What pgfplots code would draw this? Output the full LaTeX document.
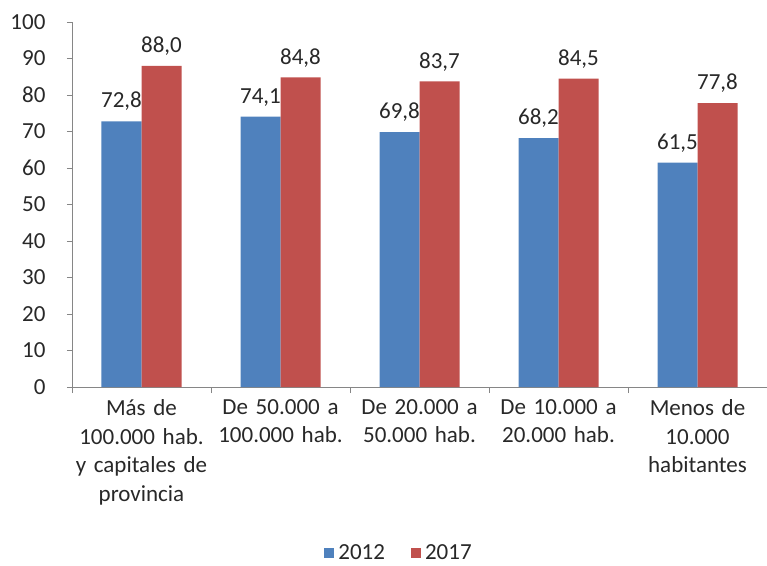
\documentclass[border=0pt]{standalone}
\usepackage{pgfplots}
\pgfplotsset{compat=1.18}
\usepackage{fontspec}
\setmainfont{Carlito}
\definecolor{cblue}{RGB}{79,129,189}
\definecolor{cred}{RGB}{192,80,77}
\definecolor{axgray}{RGB}{134,134,134}
\definecolor{txt}{RGB}{40,40,40}
\begin{document}
\begin{tikzpicture}
\useasboundingbox (-72pt,-178pt) rectangle (695pt,387pt);
\begin{axis}[
  at={(0pt,0pt)}, anchor=south west,
  scale only axis, width=695pt, height=365pt,
  font=\fontsize{23}{28}\selectfont\color{txt},
  /pgf/number format/assume math mode=true,
  ybar=0pt, bar width=40pt,
  xmin=-0.5, xmax=4.5, ymin=0, ymax=100,
  ytick={0,10,...,100},
  axis x line*=bottom, axis y line*=left,
  axis line style={axgray},
  tick align=outside, major tick length=5pt, minor tick length=6pt,
  tick style={axgray},
  xtick={0,1,2,3,4},
  major x tick style={draw=none},
  minor xtick={-0.5,0.5,1.5,2.5,3.5,4.5},
  xticklabels={{Más de\\100.000 hab.\\y capitales de\\provincia},
               {De 50.000 a\\100.000 hab.},
               {De 20.000 a\\50.000 hab.},
               {De 10.000 a\\20.000 hab.},
               {Menos de\\10.000\\habitantes}},
  x tick label style={align=center, text width=150pt, anchor=north, yshift=-4pt, font=\fontsize{23}{28.5}\selectfont\color{txt}},
  yticklabel style={xshift=-18pt, font=\fontsize{23}{28}\selectfont\color{txt}},
  nodes near coords,
  nodes near coords style={yshift=7pt, font=\fontsize{23}{28}\selectfont\color{txt}, /pgf/number format/.cd, fixed, fixed zerofill, precision=1, use comma},
  legend columns=2,
  legend style={at={(0.472,-0.455)}, anchor=center, draw=none, font=\fontsize{23}{28}\selectfont\color{txt},
    /tikz/every even column/.append style={column sep=22pt},
    nodes={inner xsep=4pt}},
  legend image code/.code={\fill[#1] (0pt,-5pt) rectangle (10pt,5pt);},
]
\addplot[fill=cblue, draw=none] coordinates {(0,72.8) (1,74.1) (2,69.8) (3,68.2) (4,61.5)};
\addplot[fill=cred, draw=none] coordinates {(0,88.0) (1,84.8) (2,83.7) (3,84.5) (4,77.8)};
\legend{2012,2017}
\end{axis}
\end{tikzpicture}
\end{document}
